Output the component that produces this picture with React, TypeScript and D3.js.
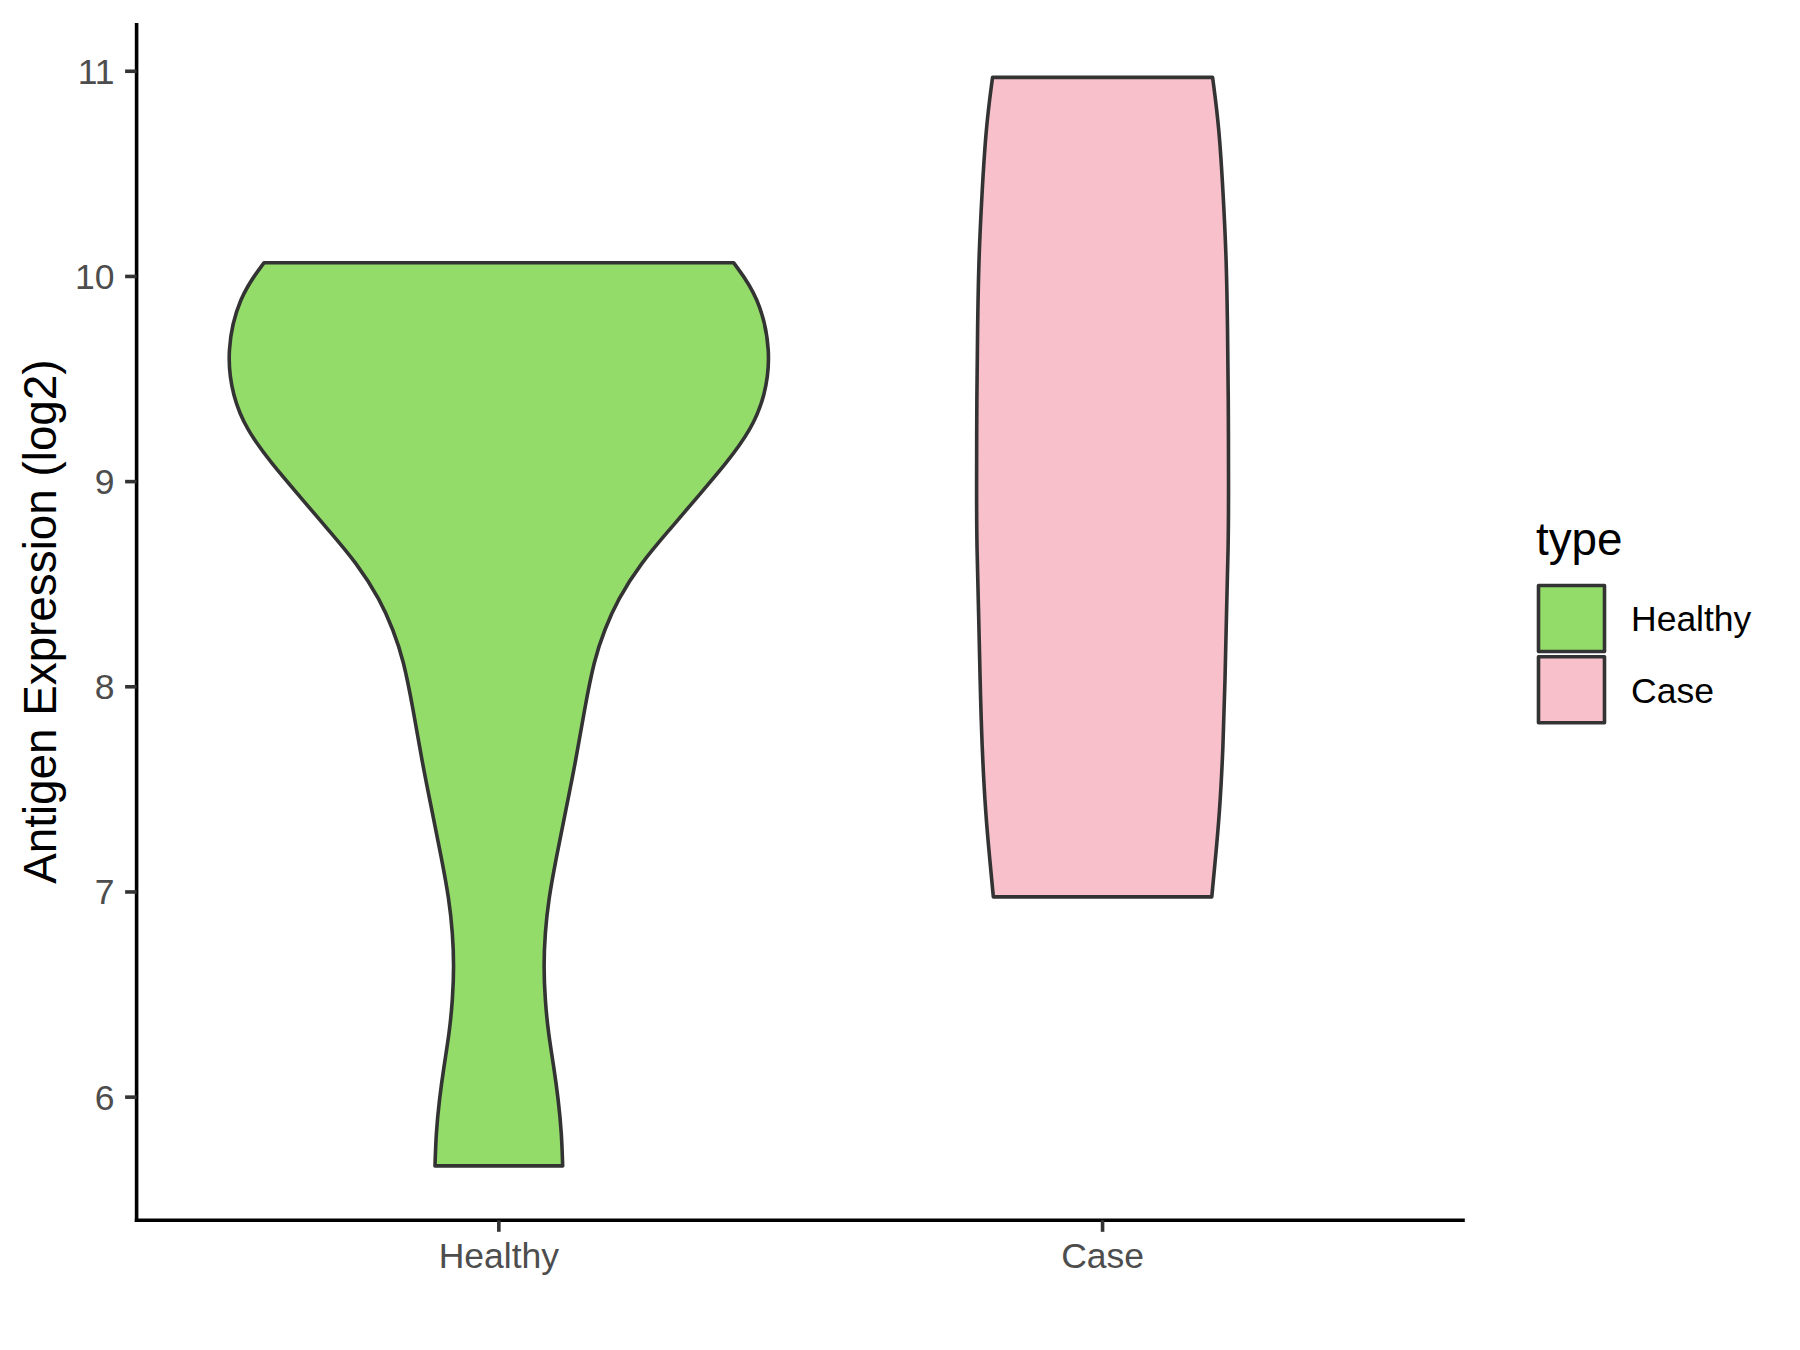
import React from "react";
import * as d3 from "d3";

// Categories and colours
const categories = ["Healthy", "Case"];
const fills = ["#93DC6A", "#F7C0CB"];

// Violin outlines: value (log2) and relative half-width (0..1 of max)
const healthyValues = [5.665, 5.826, 5.989, 6.151, 6.314, 6.476, 6.638, 6.801, 6.963, 7.158, 7.401, 7.645, 7.888, 8.132, 8.278, 8.424, 8.603, 8.765, 8.927, 9.09, 9.252, 9.414, 9.634, 9.902, 10.067];
const healthyWidths = [0.235, 0.231, 0.219, 0.202, 0.182, 0.170, 0.165, 0.170, 0.183, 0.210, 0.247, 0.284, 0.315, 0.351, 0.389, 0.437, 0.523, 0.628, 0.732, 0.838, 0.928, 0.98, 1.003, 0.957, 0.864];

const caseValues = [6.976, 7.142, 7.385, 7.71, 8.035, 8.36, 8.684, 8.944, 9.431, 9.755, 10.08, 10.405, 10.73, 10.97];
const caseWidths = [0.402, 0.414, 0.431, 0.444, 0.451, 0.456, 0.463, 0.464, 0.463, 0.460, 0.456, 0.444, 0.429, 0.405];

const yTicks = [6, 7, 8, 9, 10, 11];

const W = 1800;
const H = 1350;
const panel = { left: 136.6, right: 1464.8, top: 23, bottom: 1220.3 };
const FONT = "'Liberation Sans', Arial, Helvetica, sans-serif";

export default function App() {
  const yMin = 5.665, yMax = 10.97;
  const pad = (yMax - yMin) * 0.05;
  const y = d3.scaleLinear().domain([yMin - pad, yMax + pad]).range([panel.bottom, panel.top]);
  // discrete x scale with 0.6 expansion on each side
  const xPos = d3.scalePoint<string>().domain(categories).range([panel.left, panel.right]).padding(0.6);
  const unit = xPos.step();
  const cx = (i: number) => xPos(categories[i]) as number;
  const maxHalf = unit * 0.45;

  const violins = [
    { vals: healthyValues, w: healthyWidths },
    { vals: caseValues, w: caseWidths },
  ];

  const paths = violins.map((v, i) => {
    const pts = v.vals.map((val, j) => ({ val, w: v.w[j] }));
    const area = d3
      .area<{ val: number; w: number }>()
      .y((d) => y(d.val))
      .x0((d) => cx(i) - d.w * maxHalf)
      .x1((d) => cx(i) + d.w * maxHalf)
      .curve(d3.curveBasis);
    return area(pts) || "";
  });

  return (
    <svg width={W} height={H} style={{ display: "block", position: "absolute", left: 0, top: 0, background: "#fff" }}>
      <rect x={0} y={0} width={W} height={H} fill="#fff" />
      {paths.map((p, i) => (
        <path key={i} d={p} fill={fills[i]} stroke="#333333" strokeWidth={3.6} strokeLinejoin="round" />
      ))}
      {/* axes */}
      <line x1={panel.left} x2={panel.left} y1={panel.top} y2={panel.bottom + 1.8} stroke="#000" strokeWidth={3.6} />
      <line x1={panel.left - 1.8} x2={panel.right} y1={panel.bottom} y2={panel.bottom} stroke="#000" strokeWidth={3.6} />
      {yTicks.map((t) => (
        <g key={t}>
          <line x1={panel.left - 11.5} x2={panel.left} y1={y(t)} y2={y(t)} stroke="#333333" strokeWidth={3.6} />
          <text x={panel.left - 22} y={y(t) + 12.5} textAnchor="end" fontFamily={FONT} fontSize={35.5} fill="#4D4D4D">
            {t}
          </text>
        </g>
      ))}
      {categories.map((c, i) => (
        <g key={c}>
          <line x1={cx(i)} x2={cx(i)} y1={panel.bottom} y2={panel.bottom + 11.5} stroke="#333333" strokeWidth={3.6} />
          <text x={cx(i)} y={1268} textAnchor="middle" fontFamily={FONT} fontSize={35.5} fill="#4D4D4D">
            {c}
          </text>
        </g>
      ))}
      <text
        transform={`translate(56, ${(panel.top + panel.bottom) / 2}) rotate(-90)`}
        textAnchor="middle"
        fontFamily={FONT}
        fontSize={45.8}
        fill="#000"
      >
        Antigen Expression (log2)
      </text>
      {/* legend */}
      <text x={1536} y={555} fontFamily={FONT} fontSize={45.8} fill="#000">
        type
      </text>
      {categories.map((c, i) => (
        <g key={c}>
          <rect x={1538.5} y={585.5 + i * 71.3} width={66} height={66} fill={fills[i]} stroke="#333333" strokeWidth={3.6} strokeLinejoin="round" />
          <text x={1631} y={630.5 + i * 72} fontFamily={FONT} fontSize={35.5} fill="#000">
            {c}
          </text>
        </g>
      ))}
    </svg>
  );
}
